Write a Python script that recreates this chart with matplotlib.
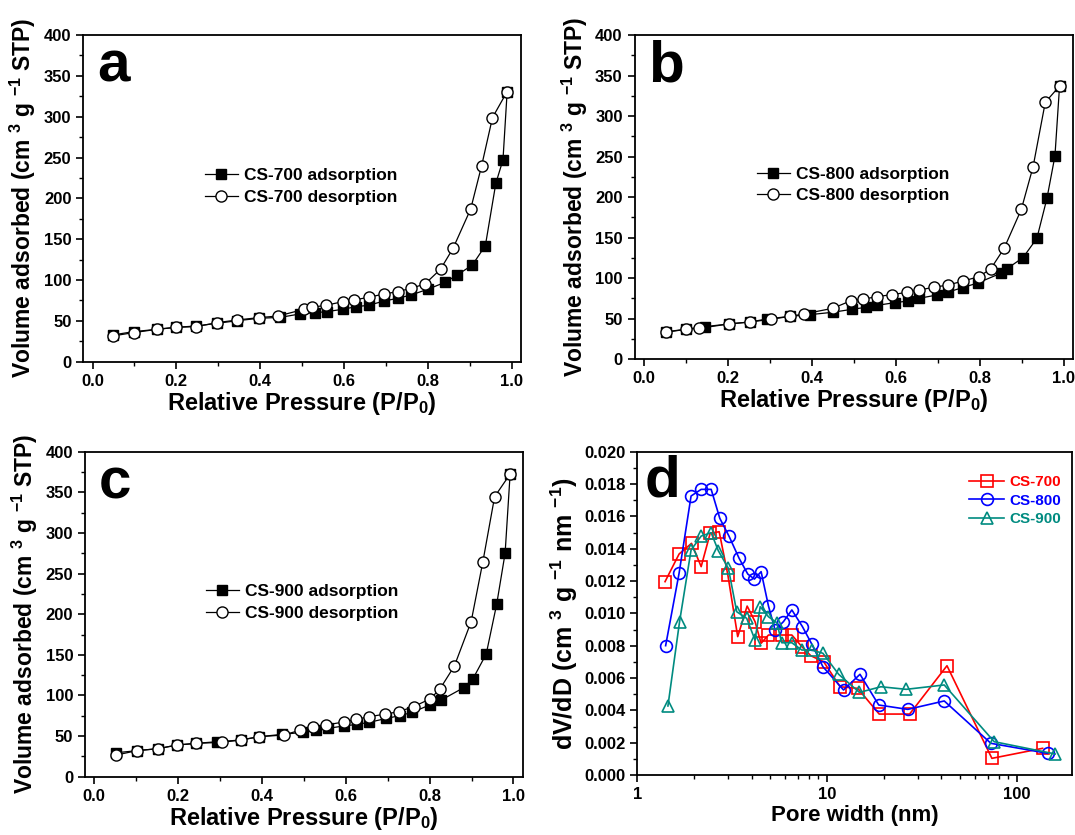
import matplotlib
matplotlib.use("Agg")
import matplotlib.pyplot as plt
from matplotlib.ticker import MultipleLocator, LogLocator, FixedLocator, NullFormatter, FormatStrFormatter

plt.rcParams['font.family'] = ['Liberation Sans', 'DejaVu Sans']
plt.rcParams['font.weight'] = 'bold'
plt.rcParams['mathtext.fontset'] = 'custom'
plt.rcParams['mathtext.rm'] = 'Liberation Sans:bold'
plt.rcParams['mathtext.bf'] = 'Liberation Sans:bold'
plt.rcParams['mathtext.it'] = 'Liberation Sans:bold'
plt.rcParams['mathtext.default'] = 'rm'

# ---------------- data ----------------
a_ads_x = [0.048, 0.098, 0.153, 0.199, 0.247, 0.297, 0.345, 0.396, 0.448, 0.494, 0.531, 0.559, 0.597,
           0.629, 0.659, 0.696, 0.728, 0.760, 0.799, 0.841, 0.870, 0.906, 0.937, 0.962, 0.979, 0.989]
a_ads_y = [32.7, 36.8, 39.6, 42.1, 43.7, 47.0, 50.2, 53.1, 54.3, 58.4, 60.0, 61.3, 64.2,
           67.4, 69.1, 74.4, 77.6, 81.7, 88.6, 97.2, 106.2, 118.4, 142.1, 218.5, 247.1, 330.8]
a_des_x = [0.048, 0.098, 0.153, 0.199, 0.247, 0.297, 0.345, 0.396, 0.443, 0.505, 0.523, 0.557, 0.597,
           0.624, 0.659, 0.695, 0.728, 0.760, 0.793, 0.830, 0.860, 0.902, 0.928, 0.954, 0.989]
a_des_y = [31.5, 35.6, 39.6, 42.1, 42.9, 47.8, 51.1, 53.9, 56.0, 64.2, 66.6, 69.1, 73.5,
           75.6, 78.9, 82.9, 85.8, 89.9, 95.2, 113.2, 138.9, 187.0, 239.7, 298.9, 330.8]

b_ads_x = [0.053, 0.100, 0.146, 0.203, 0.252, 0.294, 0.348, 0.396, 0.450, 0.496, 0.529, 0.556, 0.598,
           0.630, 0.655, 0.698, 0.725, 0.759, 0.795, 0.850, 0.865, 0.903, 0.936, 0.960, 0.979, 0.990]
b_ads_y = [34.0, 37.0, 40.3, 43.6, 46.0, 49.7, 53.0, 55.1, 58.0, 61.7, 64.1, 66.6, 69.9,
           71.9, 75.2, 79.3, 83.0, 88.4, 94.1, 106.1, 111.8, 125.4, 149.2, 198.6, 250.8, 337.0]
b_des_x = [0.053, 0.100, 0.132, 0.203, 0.252, 0.303, 0.348, 0.381, 0.450, 0.494, 0.521, 0.555, 0.592,
           0.626, 0.656, 0.690, 0.725, 0.761, 0.798, 0.826, 0.858, 0.899, 0.927, 0.956, 0.990]
b_des_y = [33.3, 37.0, 38.2, 43.6, 46.0, 49.3, 53.0, 55.9, 62.9, 72.4, 74.0, 77.3, 79.8,
           82.6, 85.5, 88.8, 91.7, 96.6, 102.0, 111.4, 136.9, 185.0, 237.6, 317.0, 337.0]

c_ads_x = [0.053, 0.101, 0.152, 0.198, 0.242, 0.294, 0.349, 0.393, 0.448, 0.498, 0.528, 0.557, 0.595,
           0.627, 0.656, 0.697, 0.729, 0.758, 0.800, 0.828, 0.881, 0.903, 0.935, 0.960, 0.980, 0.992]
c_ads_y = [29.5, 32.0, 34.5, 39.0, 41.0, 43.1, 45.1, 49.2, 52.1, 54.6, 57.4, 59.5, 62.4,
           64.4, 66.9, 71.8, 75.1, 79.2, 88.2, 94.4, 109.5, 120.2, 151.0, 212.5, 274.9, 372.5]
c_des_x = [0.053, 0.101, 0.152, 0.198, 0.242, 0.304, 0.349, 0.393, 0.452, 0.492, 0.522, 0.552, 0.595,
           0.624, 0.656, 0.694, 0.726, 0.762, 0.802, 0.825, 0.859, 0.899, 0.927, 0.955, 0.992]
c_des_y = [26.7, 32.0, 34.5, 39.0, 41.0, 42.3, 45.1, 49.2, 51.3, 57.4, 61.5, 63.6, 67.3,
           70.6, 73.8, 77.1, 80.0, 86.2, 96.0, 108.3, 136.2, 190.8, 264.6, 344.6, 372.5]

d700_x = [1.40, 1.66, 1.93, 2.17, 2.42, 2.70, 3.00, 3.38, 3.79, 4.17, 4.49, 4.91, 5.81, 6.52,
          7.36, 8.20, 9.6, 11.7, 14.5, 18.8, 27.2, 42.8, 73.8, 136.5]
d700_y = [0.01196, 0.01367, 0.01433, 0.01289, 0.01495, 0.01505, 0.01237, 0.00856, 0.01045, 0.00949,
          0.00815, 0.00866, 0.00866, 0.00866, 0.00794, 0.00738, 0.00700, 0.00546, 0.00536, 0.00377,
          0.00377, 0.00676, 0.00103, 0.00165]
d800_x = [1.41, 1.66, 1.92, 2.17, 2.45, 2.72, 3.04, 3.44, 3.82, 4.14, 4.49, 4.91, 5.32, 5.89,
          6.52, 7.41, 8.30, 9.5, 12.2, 14.9, 18.7, 26.6, 41.4, 72.9, 145.0]
d800_y = [0.00800, 0.01248, 0.01726, 0.01767, 0.01767, 0.01588, 0.01478, 0.01340, 0.01243, 0.01212,
          0.01258, 0.01045, 0.00897, 0.00949, 0.01021, 0.00918, 0.00810, 0.00670, 0.00526, 0.00623,
          0.00433, 0.00406, 0.00458, 0.00196, 0.00134]
d900_x = [1.45, 1.67, 1.92, 2.17, 2.45, 2.67, 3.02, 3.34, 3.77, 4.17, 4.44, 4.91, 5.43, 5.77,
          6.52, 7.36, 8.30, 9.5, 11.5, 14.8, 19.2, 26.1, 41.4, 75.9, 159.0]
d900_y = [0.00427, 0.00949, 0.01392, 0.01478, 0.01499, 0.01388, 0.01278, 0.01010, 0.00969, 0.00835,
          0.01041, 0.00979, 0.00942, 0.00818, 0.00818, 0.00773, 0.00773, 0.00753, 0.00623, 0.00511,
          0.00546, 0.00530, 0.00557, 0.00206, 0.00130]

iso_panels = [
    ("a", "CS-700", a_ads_x, a_ads_y, a_des_x, a_des_y),
    ("b", "CS-800", b_ads_x, b_ads_y, b_des_x, b_des_y),
    ("c", "CS-900", c_ads_x, c_ads_y, c_des_x, c_des_y),
]

# ---------------- layout ----------------
W, H = 1075, 835
fig = plt.figure(figsize=(W / 100, H / 100), dpi=100)


def rect(l, r, t, b):
    return [l / W, 1 - b / H, (r - l) / W, (b - t) / H]


iso_rects = [rect(83.3, 521.0, 35, 361.7), rect(634.5, 1073.0, 35, 359.3), rect(85, 522.7, 451.7, 776.7)]
leg_pos = [(205, 168), (757, 166.5), (206, 584)]

SP_LW = 1.3
TICK_FS = 12
LAB_FS = 16.5
YLAB = "Volume adsorbed (cm $^{3}$ g $^{-1}$ STP)"

for (letter, name, ax_x, ax_y, dx, dy), r, lp in zip(iso_panels, iso_rects, leg_pos):
    ax = fig.add_axes(r)
    ax.plot(ax_x, ax_y, '-', color='black', lw=0.9, marker='s', ms=7.5, mfc='black', mec='black',
            label=f"{name} adsorption", zorder=3)
    ax.plot(dx, dy, '-', color='black', lw=0.9, marker='o', ms=8, mfc='white', mec='black', mew=1.0,
            label=f"{name} desorption", zorder=4)
    ax.set_xlim(-0.022, 1.022)
    ax.set_ylim(0, 400)
    ax.xaxis.set_major_locator(MultipleLocator(0.2))
    ax.xaxis.set_minor_locator(MultipleLocator(0.1))
    ax.yaxis.set_major_locator(MultipleLocator(50))
    ax.yaxis.set_minor_locator(MultipleLocator(25))
    ax.xaxis.set_major_formatter(FormatStrFormatter('%.1f'))
    ax.tick_params(which='major', direction='out', length=5, width=1.2, labelsize=TICK_FS, top=False, right=False)
    ax.tick_params(which='minor', direction='out', length=3, width=1.0, top=False, right=False)
    for s in ax.spines.values():
        s.set_linewidth(SP_LW)
    ax.set_xlabel("Relative Pressure (P/P$_{0}$)", fontsize=17, fontweight='bold', labelpad=1)
    ax.set_ylabel(YLAB, fontsize=LAB_FS, fontweight='bold', labelpad=4)
    ax.text(0.031, 0.857, letter, transform=ax.transAxes, fontsize=42, fontweight='bold', va='baseline', ha='left')
    bx = (lp[0] - r[0] * W) / (r[2] * W)
    by = ((1 - r[1]) * H - lp[1]) / (r[3] * H)
    ax.legend(loc='upper left', bbox_to_anchor=(bx, by), frameon=False,
              handlelength=1.9, handletextpad=0.35, borderpad=0, borderaxespad=0, labelspacing=0.38,
              prop={'weight': 'bold', 'size': 12.5})

# ---------------- panel d ----------------
rd = rect(637.3, 1072, 451.7, 775)
ax = fig.add_axes(rd)
series_d = [
    (d700_x, d700_y, 's', '#FF0000', 'CS-700'),
    (d800_x, d800_y, 'o', '#0000FF', 'CS-800'),
    (d900_x, d900_y, '^', '#008B80', 'CS-900'),
]
for x, y, m, c, lab in series_d:
    ax.plot(x, y, '-', color=c, lw=1.2, marker=m, ms=8.5, mfc='none', mec=c, mew=1.2, label=lab)
ax.set_xscale('log')
ax.set_xlim(1, 195)
ax.set_ylim(0, 0.02)
ax.xaxis.set_major_locator(FixedLocator([1, 10, 100]))
ax.xaxis.set_minor_locator(LogLocator(base=10, subs=range(2, 10)))
ax.xaxis.set_minor_formatter(NullFormatter())
ax.xaxis.set_major_formatter(FormatStrFormatter('%d'))
ax.yaxis.set_major_locator(MultipleLocator(0.002))
ax.yaxis.set_minor_locator(MultipleLocator(0.001))
ax.yaxis.set_major_formatter(FormatStrFormatter('%.3f'))
ax.tick_params(which='major', direction='out', length=5, width=1.2, labelsize=TICK_FS, top=False, right=False)
ax.tick_params(which='minor', direction='out', length=3, width=1.0, top=False, right=False)
for s in ax.spines.values():
    s.set_linewidth(SP_LW)
ax.set_xlabel("Pore width (nm)", fontsize=16, fontweight='bold', labelpad=2)
ax.set_ylabel("dV/dD (cm $^{3}$ g $^{-1}$ nm $^{-1}$)", fontsize=18, fontweight='bold', labelpad=3)
ax.text(0.018, 0.86, 'd', transform=ax.transAxes, fontsize=42, fontweight='bold', va='baseline', ha='left')
bx = (969.3 - rd[0] * W) / (rd[2] * W)
by = ((1 - rd[1]) * H - 475) / (rd[3] * H)
leg = ax.legend(loc='upper left', bbox_to_anchor=(bx, by), frameon=False,
                handlelength=2.3, handletextpad=0.3, borderpad=0, borderaxespad=0, labelspacing=0.3,
                prop={'weight': 'bold', 'size': 11})
for t, (_, _, _, c, _) in zip(leg.get_texts(), series_d):
    t.set_color(c)

fig.savefig("out.png", dpi=100)
